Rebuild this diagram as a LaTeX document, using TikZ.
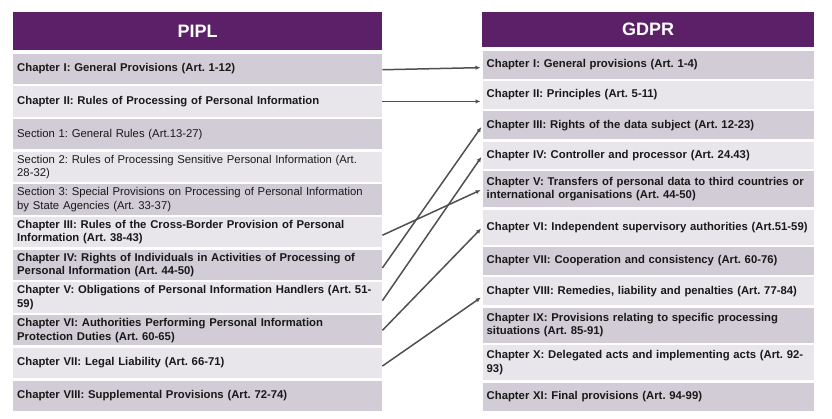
\documentclass[tikz,border=0pt]{standalone}
\usepackage{fontspec}
\setmainfont{Liberation Sans}
\usetikzlibrary{positioning,arrows.meta}
\frenchspacing

\definecolor{headpurple}{HTML}{5C2068}
\definecolor{rowdark}{HTML}{D1CCD5}
\definecolor{rowlight}{HTML}{E8E6EB}
\definecolor{arrowgray}{HTML}{505050}

\tikzset{
  head/.style={fill=headpurple, text=white, inner sep=0pt, align=center,
    font=\fontsize{18}{20}\selectfont\bfseries},
  row/.style={inner xsep=4pt, inner ysep=0pt, align=left, text=black!90,
    font=\fontsize{11.3}{13.5}\selectfont\bfseries},
  sec/.style={row, font=\fontsize{11.3}{13.5}\selectfont},
  dk/.style={fill=rowdark},
  lt/.style={fill=rowlight},
  lrow/.style={text width=361pt, minimum height=30.3pt},
  rrow/.style={text width=323pt, minimum height=#1},
  link/.style={-{Latex[length=5pt,width=4.5pt]}, line width=1.5pt,
    draw=arrowgray, shorten >=2pt}
}

\begin{document}
\begin{tikzpicture}[node distance=2pt]
  \useasboundingbox (0,0) rectangle (832pt,-419pt);

  % PIPL column
  \node[head, text width=369pt, minimum height=38pt, anchor=north west] (pipl) at (13pt,-12pt) {PIPL};
  \node[row, lrow, dk] (L1) [below=3pt of pipl] {Chapter I: General Provisions (Art. 1-12)};
  \node[row, lrow, lt] (L2) [below=of L1] {Chapter II: Rules of Processing of Personal Information};
  \node[sec, lrow, dk] (L3) [below=of L2] {Section 1: General Rules (Art.13-27)};
  \node[sec, lrow, lt] (L4) [below=of L3] {Section 2: Rules of Processing Sensitive Personal Information (Art.\\28-32)};
  \node[sec, lrow, dk] (L5) [below=of L4] {Section 3: Special Provisions on Processing of Personal Information\\by State Agencies (Art. 33-37)};
  \node[row, lrow, lt] (L6) [below=of L5] {Chapter III: Rules of the Cross-Border Provision of Personal\\Information (Art. 38-43)};
  \node[row, lrow, dk] (L7) [below=of L6] {Chapter IV: Rights of Individuals in Activities of Processing of\\Personal Information (Art. 44-50)};
  \node[row, lrow, lt] (L8) [below=of L7] {Chapter V: Obligations of Personal Information Handlers (Art. 51-\\59)};
  \node[row, lrow, dk] (L9) [below=of L8] {Chapter VI: Authorities Performing Personal Information\\Protection Duties (Art. 60-65)};
  \node[row, lrow, lt] (L10) [below=of L9] {Chapter VII: Legal Liability (Art. 66-71)};
  \node[row, lrow, dk] (L11) [below=of L10] {Chapter VIII: Supplemental Provisions (Art. 72-74)};

  % GDPR column
  \node[head, text width=332pt, minimum height=35pt, anchor=north west] (gdpr) at (482pt,-12pt) {GDPR};
  \node[row, rrow=28pt, dk] (R1) [below=3pt of gdpr] {Chapter I: General provisions (Art. 1-4)};
  \node[row, rrow=28pt, lt] (R2) [below=of R1] {Chapter II: Principles (Art. 5-11)};
  \node[row, rrow=28pt, dk] (R3) [below=of R2] {Chapter III: Rights of the data subject (Art. 12-23)};
  \node[row, rrow=27pt, lt] (R4) [below=of R3] {Chapter IV: Controller and processor (Art. 24.43)};
  \node[row, rrow=36pt, dk] (R5) [below=of R4] {Chapter V: Transfers of personal data to third countries or\\international organisations (Art. 44-50)};
  \node[row, rrow=35pt, lt] (R6) [below=of R5] {Chapter VI: Independent supervisory authorities (Art.51-59)};
  \node[row, rrow=28pt, dk] (R7) [below=of R6] {Chapter VII: Cooperation and consistency (Art. 60-76)};
  \node[row, rrow=28pt, lt] (R8) [below=of R7] {Chapter VIII: Remedies, liability and penalties (Art. 77-84)};
  \node[row, rrow=35pt, dk] (R9) [below=of R8] {Chapter IX: Provisions relating to specific processing\\situations (Art. 85-91)};
  \node[row, rrow=35pt, lt] (R10) [below=of R9] {Chapter X: Delegated acts and implementing acts (Art. 92-\\93)};
  \node[row, rrow=28pt, dk] (R11) [below=of R10] {Chapter XI: Final provisions (Art. 94-99)};

  % mapping
  \path[every edge/.style={link}]
        ([yshift=-1pt]L1.east) edge ([yshift=-3pt]R1.west)
        (L2.east) edge (L2.east -| R2.west)
        ([yshift=-3pt]L7.east) edge (R3.west)
        ([yshift=-3pt]L8.east) edge (R4.west)
        ([yshift=-3pt]L6.east) edge (R5.west)
        (L9.east) edge (R6.west)
        ([yshift=-3pt]L10.east) edge ([yshift=-5pt]R8.west);
\end{tikzpicture}
\end{document}
